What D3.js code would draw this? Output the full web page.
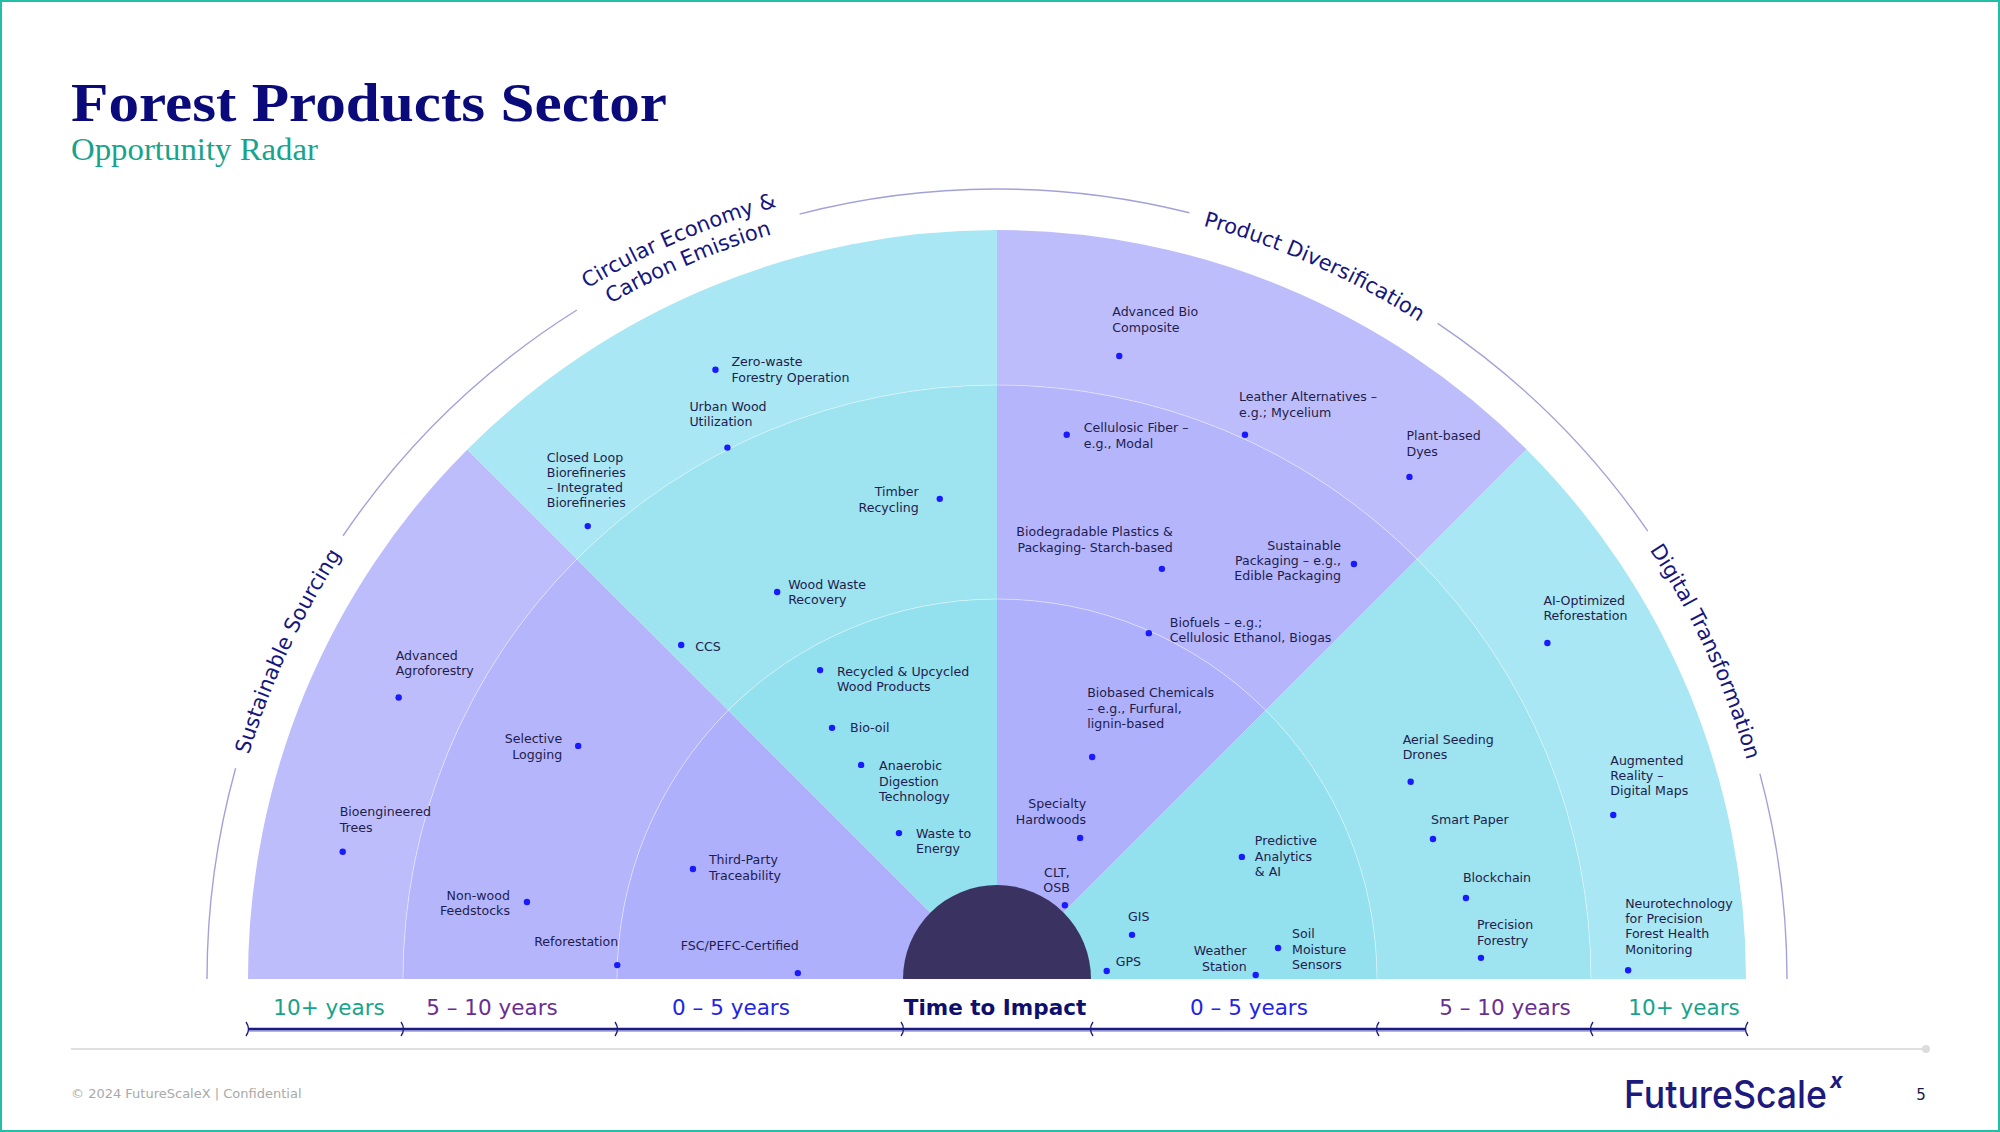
<!DOCTYPE html>
<html>
<head>
<meta charset="utf-8">
<script src="https://cdn.jsdelivr.net/npm/d3@7"></script>
<style>
  body { margin: 0; background: #fff; }
  svg { display: block; }
</style>
</head>
<body>
<svg id="chart" width="2000" height="1132"></svg>
<script>
// radar sectors, left to right
const sectors = ["Sustainable Sourcing", "Circular Economy &\nCarbon Emission", "Product Diversification", "Digital Transformation"];
// time horizons, inner to outer
const horizons = ["0 – 5 years", "5 – 10 years", "10+ years"];
const horizonYears = [0, 5, 10, 15];

// opportunities
const items = [
  "Advanced\nAgroforestry", "Selective\nLogging", "Bioengineered\nTrees", "Non-wood\nFeedstocks",
  "Reforestation", "FSC/PEFC-Certified", "Third-Party\nTraceability",
  "Zero-waste\nForestry Operation", "Urban Wood\nUtilization", "Closed Loop\nBiorefineries\n– Integrated\nBiorefineries",
  "Timber\nRecycling", "Wood Waste\nRecovery", "CCS", "Recycled & Upcycled\nWood Products", "Bio-oil",
  "Anaerobic\nDigestion\nTechnology", "Waste to\nEnergy",
  "Advanced Bio\nComposite", "Cellulosic Fiber –\ne.g., Modal", "Leather Alternatives –\ne.g.; Mycelium",
  "Plant-based\nDyes", "Biodegradable Plastics &\nPackaging- Starch-based", "Sustainable\nPackaging – e.g.,\nEdible Packaging",
  "Biofuels – e.g.;\nCellulosic Ethanol, Biogas", "Biobased Chemicals\n– e.g., Furfural,\nlignin-based",
  "Specialty\nHardwoods", "CLT,\nOSB",
  "AI-Optimized\nReforestation", "Aerial Seeding\nDrones", "Smart Paper", "Predictive\nAnalytics\n& AI", "GIS", "GPS",
  "Weather\nStation", "Soil\nMoisture\nSensors", "Blockchain", "Precision\nForestry", "Augmented\nReality –\nDigital Maps",
  "Neurotechnology\nfor Precision\nForest Health\nMonitoring"
];
const itemSector = [0,0,0,0,0,0,0, 1,1,1,1,1,1,1,1,1,1, 2,2,2,2,2,2,2,2,2,2, 3,3,3,3,3,3,3,3,3,3,3,3];
// years to impact (radial)
const itemYears = [12.17, 7.32, 12.34, 7.25, 5.0, 1.84, 4.01,
  12.49, 10.06, 10.53, 7.42, 6.52, 6.86, 4.58, 3.61, 2.79, 1.43,
  11.32, 8.94, 10.13, 11.80, 6.45, 8.91, 4.96, 2.58, 1.22, 0.11,
  11.64, 6.83, 6.82, 3.14, 0.84, 0.28, 2.88, 3.30, 7.24, 7.44, 11.41, 11.20];
// bearing in degrees (180 = left, 0 = right)
const itemAngle = [154.8, 150.9, 169.0, 170.7, 177.9, 178.3, 160.1,
  114.8, 116.9, 132.1, 96.8, 119.6, 133.4, 119.8, 123.3, 122.4, 123.9,
  78.9, 82.7, 65.5, 50.6, 68.1, 49.3, 66.3, 66.8, 59.5, 47.4,
  31.4, 25.5, 17.8, 26.5, 18.1, 4.2, 0.9, 6.3, 9.8, 2.5, 14.9, 0.8];

// label placement: anchor, dx, dy of first line from the dot
const labelPlace = [
  ["start",-3,-42], ["end",-16,-7], ["start",-3,-40], ["end",-17,-7], ["end",1,-24], ["end",1,-28], ["start",16,-9],
  ["start",16,-8], ["start",-38,-41], ["start",-41,-69], ["end",-21,-7], ["start",11,-8], ["start",14,1],
  ["start",17,1], ["start",18,0], ["start",18,1], ["start",17,0],
  ["start",-7,-44], ["start",17,-7], ["start",-6,-38], ["start",-3,-41], ["end",11,-37], ["end",-13,-19],
  ["start",21,-11], ["start",-5,-64], ["end",6,-34], ["end",5,-33],
  ["start",-4,-43], ["start",-8,-42], ["start",-2,-20], ["start",13,-16], ["start",-4,-18], ["start",9,-9],
  ["end",-9,-24], ["start",14,-14], ["start",-3,-21], ["start",-4,-33], ["start",-3,-55], ["start",-3,-67]
];

const W = 2000, H = 1132;
const cx = 997, cy = 979;
const purple = ["#aeb0fc", "#b5b5fc", "#bebdfc"];
const cyan = ["#93e0ef", "#9de3f0", "#a8e7f3"];
const navy = "#16167c";

const svg = d3.select("#chart");

const rScale = d3.scaleLinear().domain(horizonYears).range([94, 380, 594, 749]);
const sectorBand = d3.scaleBand().domain(sectors).range([-Math.PI / 2, Math.PI / 2]);
const rad = d3.scaleLinear().domain([0, 180]).range([0, Math.PI]);

function polar(r, a) {
  return [cx + r * Math.cos(rad(a)), cy - r * Math.sin(rad(a))];
}
function arcPath(r, a1, a2) {
  const p1 = polar(r, a1), p2 = polar(r, a2);
  return "M" + p1[0] + "," + p1[1] + " A" + r + "," + r + " 0 0 1 " + p2[0] + "," + p2[1];
}

// frame
svg.append("rect").attr("x", 1).attr("y", 1).attr("width", W - 2).attr("height", H - 2)
  .attr("fill", "none").attr("stroke", "#22bfa6").attr("stroke-width", 2);

// title
svg.append("text").attr("x", 71).attr("y", 121)
  .attr("font-family", "Liberation Serif").attr("font-weight", "bold").attr("font-size", 54)
  .attr("textLength", 596).attr("lengthAdjust", "spacingAndGlyphs")
  .attr("fill", "#0a0a7a").text("Forest Products Sector");
svg.append("text").attr("x", 71).attr("y", 160)
  .attr("font-family", "Liberation Serif").attr("font-size", 31.5)
  .attr("textLength", 247).attr("lengthAdjust", "spacingAndGlyphs")
  .attr("fill", "#17a38c").text("Opportunity Radar");

const g = svg.append("g").attr("transform", "translate(" + cx + "," + cy + ")");

// sector rings
sectors.forEach((s, i) => {
  horizons.forEach((h, j) => {
    const arc = d3.arc()
      .innerRadius(j === 0 ? 0 : rScale(horizonYears[j]))
      .outerRadius(rScale(horizonYears[j + 1]))
      .startAngle(sectorBand(s))
      .endAngle(sectorBand(s) + sectorBand.bandwidth());
    g.append("path").attr("d", arc()).attr("fill", (i % 2 ? cyan : purple)[j]);
  });
});

// faint ring separators
[5, 10].forEach(v => {
  const arc = d3.arc().innerRadius(rScale(v)).outerRadius(rScale(v))
    .startAngle(-Math.PI / 2).endAngle(Math.PI / 2);
  g.append("path").attr("d", arc()).attr("fill", "none")
    .attr("stroke", "#fff").attr("stroke-opacity", 0.22).attr("stroke-width", 1);
});

// center
g.append("path")
  .attr("d", d3.arc().innerRadius(0).outerRadius(rScale(0)).startAngle(-Math.PI / 2).endAngle(Math.PI / 2)())
  .attr("fill", "#3a3362");

// dots and labels
const pts = svg.append("g");
items.forEach((name, i) => {
  const p = polar(rScale(itemYears[i]), itemAngle[i]);
  pts.append("circle").attr("cx", p[0]).attr("cy", p[1]).attr("r", 3.2).attr("fill", "#1a1aff");
  const pl = labelPlace[i];
  const t = pts.append("text")
    .attr("x", p[0] + pl[1]).attr("y", p[1] + pl[2] + 4.5)
    .attr("text-anchor", pl[0])
    .attr("font-family", "DejaVu Sans, Verdana, sans-serif").attr("font-size", 12.6)
    .attr("fill", "#1f1d4d");
  name.split("\n").forEach((ln, k) => {
    t.append("tspan").attr("x", p[0] + pl[1]).attr("dy", k ? 15.3 : 0).text(ln);
  });
});

// sector titles on curved paths
const labelShift = [-2.3, 0.8, -1.5, 2.3];
const defs = svg.append("defs");
const gaps = [];
sectors.forEach((s, i) => {
  const mid = 180 - (i + 0.5) * 45 + labelShift[i];
  const lines = s.split("\n");
  let maxLen = 0;
  lines.forEach((ln, k) => {
    const r = lines.length > 1 ? 803 - k * 25 : 781;
    const id = "lp" + i + "_" + k;
    defs.append("path").attr("id", id).attr("d", arcPath(r, mid + 40, mid - 40));
    const t = svg.append("text")
      .attr("font-family", "DejaVu Sans, Verdana, sans-serif").attr("font-size", 21)
      .attr("fill", navy);
    t.append("textPath").attr("href", "#" + id).attr("startOffset", "50%")
      .attr("text-anchor", "middle").text(ln);
    maxLen = Math.max(maxLen, t.node().getComputedTextLength());
  });
  const half = (maxLen / 2 + 18) / 790 * 180 / Math.PI;
  gaps.push([mid + half, mid - half]);
});

// thin outer arc, broken around the titles
let from = 180;
gaps.forEach(gp => {
  svg.append("path").attr("d", arcPath(790, from, gp[0]))
    .attr("fill", "none").attr("stroke", "#a3a2d8").attr("stroke-width", 1.4);
  from = gp[1];
});
svg.append("path").attr("d", arcPath(790, from, 0))
  .attr("fill", "none").attr("stroke", "#a3a2d8").attr("stroke-width", 1.4);

// time axis
const ay = 1029;
svg.append("line").attr("x1", cx - rScale(15)).attr("x2", cx + rScale(15))
  .attr("y1", ay + 2).attr("y2", ay + 2).attr("stroke", "#b4b4e4").attr("stroke-width", 2);
svg.append("line").attr("x1", cx - rScale(15)).attr("x2", cx + rScale(15))
  .attr("y1", ay).attr("y2", ay).attr("stroke", "#1b1b80").attr("stroke-width", 2.5);
horizonYears.forEach(v => {
  [-1, 1].forEach(side => {
    const x = cx + side * rScale(v);
    const b = side < 0 ? 3 : -3;
    svg.append("path")
      .attr("d", "M" + (x - b / 1.5) + "," + (ay - 7) + " Q" + (x + b) + "," + ay + " " + (x - b / 1.5) + "," + (ay + 7))
      .attr("fill", "none").attr("stroke", "#1b1b80").attr("stroke-width", 1.3);
  });
});

const bandColors = ["#2424e4", "#6a2e93", "#17a38a"];
const distLeft = [266, 505, 668], distRight = [252, 508, 687];
horizons.forEach((h, j) => {
  [[-1, distLeft[j]], [1, distRight[j]]].forEach(([side, d]) => {
    svg.append("text").attr("x", cx + side * d).attr("y", 1015)
      .attr("text-anchor", "middle")
      .attr("font-family", "DejaVu Sans, Verdana, sans-serif").attr("font-size", 21.5)
      .attr("fill", bandColors[j]).text(h);
  });
});
svg.append("text").attr("x", cx - 2).attr("y", 1015).attr("text-anchor", "middle")
  .attr("font-family", "DejaVu Sans, Verdana, sans-serif").attr("font-size", 21.5)
  .attr("font-weight", "bold").attr("fill", "#0f0f6e").text("Time to Impact");

// footer
svg.append("line").attr("x1", 71).attr("x2", 1926).attr("y1", 1049).attr("y2", 1049)
  .attr("stroke", "#e0e0e0").attr("stroke-width", 2);
svg.append("circle").attr("cx", 1926).attr("cy", 1049).attr("r", 4).attr("fill", "#dcdcdc");
svg.append("text").attr("x", 71).attr("y", 1098)
  .attr("font-family", "DejaVu Sans, Verdana, sans-serif").attr("font-size", 13)
  .attr("fill", "#a9a9a9").text("© 2024 FutureScaleX | Confidential");
svg.append("text").attr("x", 1624).attr("y", 1108)
  .attr("font-family", "Inter, sans-serif").attr("font-weight", 500).attr("font-size", 38)
  .attr("textLength", 203).attr("lengthAdjust", "spacingAndGlyphs")
  .attr("fill", "#1c1a7c").text("FutureScale");
svg.append("text").attr("x", 1830).attr("y", 1088)
  .attr("font-family", "Inter, sans-serif").attr("font-weight", 700).attr("font-style", "italic")
  .attr("font-size", 22).attr("fill", "#1c1a7c").text("x");
svg.append("text").attr("x", 1921).attr("y", 1100).attr("text-anchor", "middle")
  .attr("font-family", "DejaVu Sans, Verdana, sans-serif").attr("font-size", 15)
  .attr("fill", "#1a1a40").text("5");
</script>
</body>
</html>
